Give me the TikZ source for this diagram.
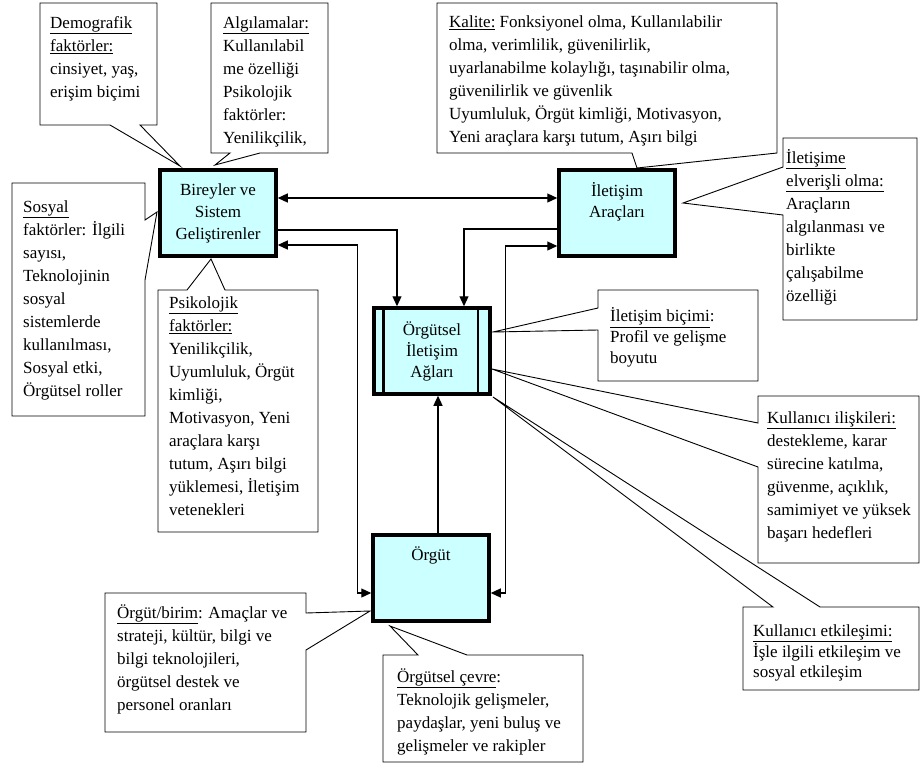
\documentclass[tikz,border=0pt]{standalone}
\usepackage{fontspec}
\setmainfont{Liberation Serif}
\usetikzlibrary{arrows.meta,calc}
\definecolor{boxfill}{RGB}{204,255,255}
\begin{document}
\begin{tikzpicture}[x=1pt,y=-1pt,
  >={Triangle[length=10pt,width=9pt]},
  mainbox/.style={draw, line width=3.5pt, fill=boxfill, minimum width=116pt, minimum height=86pt, inner sep=0pt, align=center, font=\fontsize{17}{22}\selectfont},
  callout/.style={draw, line width=0.9pt, fill=white, line join=miter},
  ctext/.style={anchor=north west, inner sep=0pt, align=left, font=\fontsize{17}{23}\selectfont},
  conn/.style={line width=1.2pt}]
\useasboundingbox (0,0) rectangle (922,764);
\fill[white] (0,0) rectangle (922,764);

% ---------- callouts ----------
\draw[callout] (40,3) -- (157,3) -- (157,125) -- (140,125) -- (180,166) -- (110,125) -- (40,125) -- cycle;
\draw[callout] (211,3) -- (328,3) -- (328,153) -- (260,153) -- (215,165) -- (230,153) -- (211,153) -- cycle;
\draw[callout] (437,3) -- (777,3) -- (777,153) -- (637,168) -- (632,153) -- (437,153) -- cycle;
\draw[callout] (783,138) -- (917,138) -- (917,320) -- (783,320) -- (783,215) -- (683,203) -- (783,167) -- cycle;
\draw[callout] (12,183) -- (145,183) -- (145,220) -- (157,212) -- (145,280) -- (145,416) -- (12,416) -- cycle;
\draw[callout] (158,290) -- (187,290) -- (211,259) -- (225,290) -- (318,290) -- (318,532) -- (158,532) -- cycle;
\draw[callout] (105,593) -- (306,593) -- (306,613) -- (370,611) -- (306,650) -- (306,732) -- (105,732) -- cycle;
\draw[callout] (383,655) -- (418,655) -- (390,626) -- (467,655) -- (583,655) -- (583,762) -- (383,762) -- cycle;
\draw[callout] (598,290) -- (758,290) -- (758,381) -- (598,381) -- (598,330) -- (493,332) -- (598,308) -- cycle;
\draw[callout] (758,396) -- (919,396) -- (919,563) -- (758,563) -- (758,467) -- (492,369) -- (758,423) -- cycle;
\draw[callout] (743,607) -- (773,607) -- (493,397) -- (820,607) -- (919,607) -- (919,690) -- (743,690) -- cycle;

% ---------- callout texts ----------
\node[ctext] (tA) at (50,12) {\strut\underline{Demografik}\\\underline{faktörler:}\\cinsiyet, yaş,\\erişim biçimi};
\node[ctext] (tB) at (223,12) {\strut\underline{Algılamalar:}\\Kullanılabil\\me özelliği\\Psikolojik\\faktörler:\\Yenilikçilik,};
\node[ctext] (tC) at (449,11) {\strut\underline{Kalite:} Fonksiyonel olma, Kullanılabilir\\olma, verimlilik, güvenilirlik,\\uyarlanabilme kolaylığı, taşınabilir olma,\\güvenilirlik ve güvenlik\\Uyumluluk, Örgüt kimliği, Motivasyon,\\Yeni araçlara karşı tutum, Aşırı bilgi};
\node[ctext] (tD) at (786,147) {\strut\underline{İletişime}\\\underline{elverişli olma:}\\Araçların\\algılanması ve\\birlikte\\çalışabilme\\özelliği};
\node[ctext] (tE) at (23,196) {\strut\underline{Sosyal}\\faktörler: İlgili\\sayısı,\\Teknolojinin\\sosyal\\sistemlerde\\kullanılması,\\Sosyal etki,\\Örgütsel roller};
\node[ctext] (tF) at (169,292) {\strut\underline{Psikolojik}\\\underline{faktörler:}\\Yenilikçilik,\\Uyumluluk, Örgüt\\kimliği,\\Motivasyon, Yeni\\araçlara karşı\\tutum, Aşırı bilgi\\yüklemesi, İletişim\\vetenekleri};
\node[ctext] (tG) at (117,602) {\strut\underline{Örgüt/birim}: Amaçlar ve\\strateji, kültür, bilgi ve\\bilgi teknolojileri,\\örgütsel destek ve\\personel oranları};
\node[ctext] (tH) at (397,666) {\strut\underline{Örgütsel çevre}:\\Teknolojik gelişmeler,\\paydaşlar, yeni buluş ve\\gelişmeler ve rakipler};
\node[ctext, font=\fontsize{17}{21}\selectfont] (tI) at (610,307) {\strut\underline{İletişim biçimi}:\\Profil ve gelişme\\boyutu};
\node[ctext] (tJ) at (767,407) {\strut\underline{Kullanıcı ilişkileri:}\\destekleme, karar\\sürecine katılma,\\güvenme, açıklık,\\samimiyet ve yüksek\\başarı hedefleri};
\node[ctext, font=\fontsize{17}{20}\selectfont] (tK) at (753,622) {\strut\underline{Kullanıcı etkileşimi:}\\İşle ilgili etkileşim ve\\sosyal etkileşim};

% ---------- main boxes ----------
\node[mainbox] (bir) at (218,213) {Bireyler ve\\Sistem\\Geliştirenler};
\node[mainbox] (ile) at (617,213) {};
\node[anchor=north, inner sep=0pt, align=center, font=\fontsize{17}{21}\selectfont] (ilet) at ([yshift=-13pt]ile.north) {\strut İletişim\\Araçları};
\node[mainbox, font=\fontsize{17}{21}\selectfont] (org) at (432,351) {Örgütsel\\İletişim\\Ağları};
\draw[line width=2.5pt] ([xshift=11pt]org.north west) -- ([xshift=11pt]org.south west);
\draw[line width=2.5pt] ([xshift=-14pt]org.north east) -- ([xshift=-14pt]org.south east);
\node[mainbox] (orgut) at (431,578) {};
\node[anchor=north, inner sep=0pt, font=\fontsize{17}{21}\selectfont] (orgutt) at ([yshift=-12pt]orgut.north) {\strut Örgüt};

% ---------- connectors ----------
\coordinate (o3) at ([yshift=-15pt]orgut.west);
\coordinate (o5) at ([yshift=-15pt]orgut.east);
\draw[conn,<->] ([yshift=15pt]bir.east) -- ([yshift=15pt]ile.west);
\draw[conn,->] ([yshift=-17pt]bir.east) -| ([xshift=-35pt]org.north);
\draw[conn,<->] ([yshift=-32pt]bir.east) -| ([xshift=-14pt]o3) -- (o3);
\draw[conn,->] ([yshift=-16pt]ile.west) -| ([xshift=32pt]org.north);
\draw[conn,<->] ([yshift=-33pt]ile.west) -| ([xshift=15pt]o5) -- (o5);
\draw[conn,->] ([xshift=7pt]orgut.north) -- ([xshift=7pt]orgut.north |- org.south);
\end{tikzpicture}
\end{document}
